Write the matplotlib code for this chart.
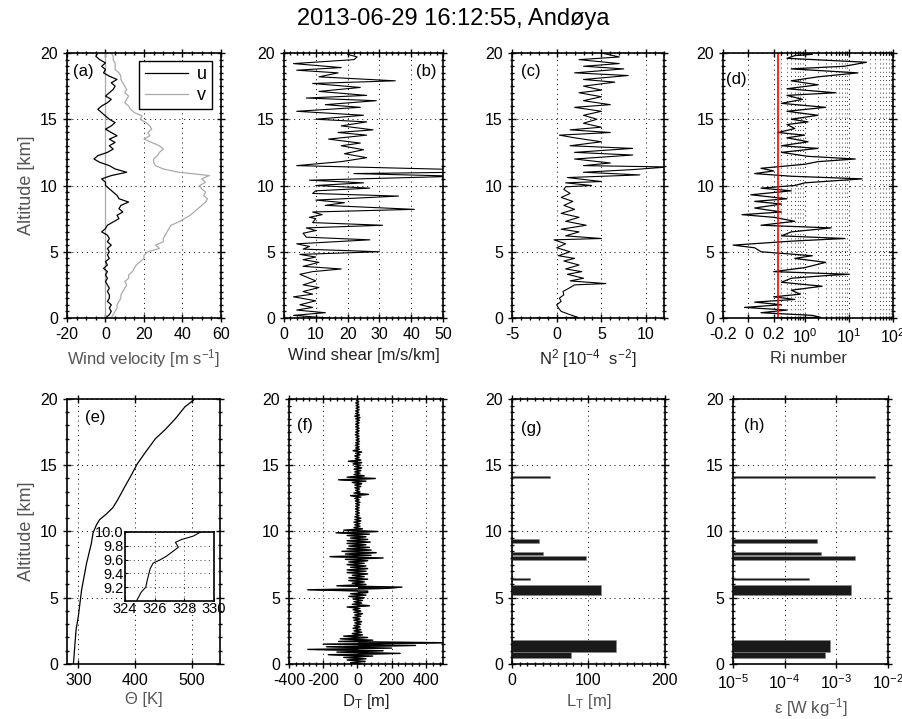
import numpy as np
import matplotlib.pyplot as plt
from matplotlib.ticker import MultipleLocator, FixedLocator, NullLocator, LogFormatterSciNotation

plt.rcParams['font.family'] = ['Liberation Sans', 'DejaVu Sans']
plt.rcParams['mathtext.fontset'] = 'custom'
plt.rcParams['mathtext.rm'] = 'Liberation Sans'
plt.rcParams['mathtext.default'] = 'regular'
plt.rcParams['axes.linewidth'] = 1.2
plt.rcParams['axes.unicode_minus'] = False

TITLE = '2013-06-29 16:12:55, Andøya'

# (a) wind components, sampled every 0.25 km
alt_uv = np.arange(0, 20.01, 0.25)
u_wind = [0, 2, 3, 2, 3, 1, 2, 2, 1,
          2, 1, 0, 1, 0, 1, -1, 1,
          0, 2, 1, 2, 1, 3, 1, 2,
          1, -2, 0, 1, 4, 7, 6, 9,
          7, 8, 12, 7, 6, 4, 2, 0,
          0, -2, 3, 11, 5, 2, -3, -6,
          -4, 1, 4, 2, 5, 2, 6, 3,
          0, 3, 5, 2, 0, -2, -4, -2,
          1, 3, 0, 2, 4, 5, 3, 6,
          2, -1, 0, -2, 0, -3, -5, -4]
v_wind = [3, 4, 5, 6, 6, 7, 8, 8, 9,
          10, 11, 10, 12, 12, 14, 15, 16,
          18, 20, 20, 22, 28, 26, 30, 30,
          31, 32, 33, 34, 38, 41, 44, 46,
          48, 50, 52, 53, 51, 52, 50, 49,
          52, 50, 54, 38, 30, 26, 25, 25,
          27, 28, 30, 28, 24, 20, 23, 22,
          24, 23, 21, 18, 19, 15, 13, 12,
          10, 11, 12, 10, 11, 10, 9, 8,
          8, 7, 5, 5, 5, 4, 4, 3]

# (b) wind shear
alt_shear = [0, 0.2, 0.4, 0.6, 0.8, 1.0, 1.3, 1.6, 1.8, 2.0, 2.3, 2.5, 2.8, 3.0,
             3.3, 3.5, 3.7, 3.9, 4.2, 4.4, 4.6, 4.8, 5.0, 5.2, 5.4, 5.6, 5.9, 6.1,
             6.4, 6.6, 6.8, 7.0, 7.2, 7.5, 7.6, 7.8, 8.0, 8.2, 8.5, 8.7, 8.9, 9.2,
             9.4, 9.6, 9.8, 10.0, 10.2, 10.4, 10.7, 10.9, 11.0, 11.2, 11.5, 11.8,
             12.1, 12.4, 12.7, 13.0, 13.2, 13.5, 13.8, 14.0, 14.2, 14.5, 14.8, 15.0,
             15.3, 15.6, 15.9, 16.1, 16.4, 16.6, 16.8, 17.1, 17.4, 17.7, 17.9, 18.2,
             18.5, 18.7, 18.9, 19.2, 19.5, 19.7, 19.9, 20.0]
shear = [14, 3, 13, 4, 9, 5, 10, 3, 9, 6, 11, 6, 10, 8,
         5, 9, 18, 6, 11, 6, 10, 5, 30, 6, 8, 4, 27, 7,
         6, 10, 7, 31, 9, 10, 8, 12, 9, 41, 13, 19, 10, 36,
         9, 10, 27, 10, 25, 8, 55, 22, 55, 55, 4, 18,
         26, 19, 25, 18, 24, 14, 26, 17, 28, 18, 26, 10,
         25, 4, 24, 13, 29, 7, 26, 11, 24, 9, 35, 11,
         17, 4, 18, 3, 22, 23, 20, 21]

# (c) N^2
alt_n2 = [0.0, 0.05, 0.25, 0.5, 0.75, 1.0, 1.25, 1.5, 1.75, 2.0, 2.3, 2.5, 2.6, 2.8,
          3.0, 3.3, 3.5, 3.7, 4.0, 4.3, 4.5, 4.7, 5.0, 5.3, 5.6, 5.9, 6.0, 6.2,
          6.5, 6.7, 7.0, 7.3, 7.6, 7.9, 8.2, 8.5, 8.8, 9.1, 9.4, 9.7, 9.9, 10.0,
          10.2, 10.3, 10.6, 10.8, 11.0, 11.2, 11.4, 11.5, 11.7, 12.0, 12.3, 12.5,
          12.8, 13.0, 13.3, 13.6, 13.8, 14.0, 14.2, 14.4, 14.7, 15.0, 15.3, 15.6,
          15.9, 16.1, 16.4, 16.7, 17.0, 17.2, 17.5, 17.8, 18.0, 18.3, 18.5, 18.8,
          19.0, 19.2, 19.5, 19.7, 20.0]
n2 = [-2.3, 2.4, 1.5, 0.5, 0.2, 0.0, 0.5, 0.3, 0.8, 0.7, 1.5, 2.0, 5.5, 1.5,
      3.0, 1.2, 2.8, 1.0, 2.5, 0.8, 2.0, 0.2, 1.5, 0.0, 1.0, -0.3, 5.0, 1.0,
      2.5, 0.5, 3.3, 1.0, 2.5, 0.5, 2.0, 0.8, 1.8, 0.5, 1.5, 0.8, 1.0, 3.9,
      1.0, 5.0, 1.2, 9.3, 3.0, 8.5, 12.5, 3.0, 6.0, 2.0, 8.5, 2.0,
      8.5, 1.5, 5.0, 2.0, 0.3, 6.0, 1.5, 5.0, 3.0, 4.5, 3.0, 5.0,
      2.0, 6.0, 3.0, 5.0, 2.5, 5.0, 3.0, 6.5, 3.0, 8.0, 2.0, 7.5,
      3.0, 7.0, 2.5, 7.0, 5.0]

# (d) Richardson number
alt_ri = [0.0, 0.05, 0.2, 0.4, 0.6, 0.8, 1.0, 1.2, 1.4, 1.6, 1.8, 2.1, 2.4, 2.7,
          3.0, 3.2, 3.3, 3.5, 3.8, 4.2, 4.5, 4.7, 5.0, 5.3, 5.5, 5.8, 6.0, 6.2,
          6.5, 6.8, 7.0, 7.3, 7.6, 7.8, 8.0, 8.3, 8.6, 8.8, 9.0, 9.3, 9.6, 9.8,
          10.0, 10.2, 10.5, 10.7, 10.9, 11.1, 11.3, 11.6, 11.8, 12.0, 12.2, 12.5,
          12.8, 13.0, 13.3, 13.6, 13.8, 14.0, 14.3, 14.6, 14.8, 15.0, 15.3, 15.6,
          15.9, 16.2, 16.5, 16.8, 17.0, 17.3, 17.6, 17.9, 18.2, 18.5, 18.8, 19.0,
          19.3, 19.6, 19.8, 19.9, 20.0]
ri = [0.18, 2.3, 1.5, 0.1, 0.4, -0.03, 0.3, 0.05, 0.6, 0.2, 0.8, 0.5, 2.5, 0.3,
      0.5, 3.0, 10.0, 0.2, 1.0, 3.0, 0.6, 1.5, 0.1, 0.05, -0.12, 0.5, 8.0, 0.3,
      0.5, 4.0, 0.1, 0.6, 0.2, -0.05, 0.3, 0.05, 0.3, 0.05, 0.4, 0.02, 0.5, 0.1,
      0.6, 1.0, 20.0, 0.5, 0.05, 0.2, 0.1, 1.0, 2.0, 14.0, 1.2, 0.3,
      2.0, 0.3, 1.2, 0.4, 1.0, 0.25, 0.6, 0.4, 1.2, 0.5, 2.0, 0.4,
      3.0, 0.3, 0.9, 0.4, 5.0, 0.4, 2.0, 0.5, 2.0, 16.0, 0.5, 8.0,
      25.0, 0.4, 0.6, 1.5, 0.8]
ri_crit = 0.25

# (e) potential temperature
alt_theta = [0, 2.58, 3.6, 5.6, 7.6, 9.1, 9.9, 10.5, 10.9, 11.3, 11.8, 12.4, 13.3,
             14.2, 15.1, 16.0, 17.0, 17.7, 18.5, 19.4, 20.0]
theta = [291.3, 296, 300, 305.8, 314.5, 323, 326, 332, 337.7, 349, 361, 369.6, 381,
         392.8, 404, 418.8, 436, 453.6, 471, 488, 505.8]
alt_inset = [9.01, 9.13, 9.2, 9.3, 9.47, 9.55, 9.6, 9.65, 9.73, 9.78, 9.85, 9.89, 9.94, 10.0]
theta_inset = [324.8, 325.1, 325.4, 325.5, 325.7, 325.9, 326.4, 326.8, 327.3, 327.6,
               327.4, 327.8, 328.6, 329.1]

# (f) Thorpe displacements, every 0.1 km
alt_dt = np.arange(0, 20.001, 0.1)
d_t = [30, -40, 45, -60, 50, -80, 90, -170, 250, -120,
       150, -290, 200, -180, 340, -200, 520, -110, 90, -100,
       60, -80, 30, -30, 25, -20, 20, -25, 15, -20,
       20, -15, 25, -20, 15, -25, 20, -15, 30, -20,
       20, -25, 15, -60, 70, -30, 25, -20, 30, -25,
       40, -50, 50, -40, 60, 60, -290, 150, 260, -120,
       50, -30, 40, -50, 60, -50, 40, -30, 60, -60,
       50, -60, 60, -40, 50, -60, 40, -50, 60, -70,
       150, -160, 80, -70, 110, -90, 80, -60, 70, -50,
       50, -60, 75, -60, 60, -40, 50, -60, 70, -125,
       120, -80, 30, -20, 15, -15, 15, -20, 20, -15,
       20, -15, 10, -10, 12, -10, 10, -12, 10, -10,
       12, -10, 15, -12, 10, -15, 20, -40, 65, -20,
       15, -10, 12, -15, 20, -15, 25, -30, 50, -110,
       105, -60, 40, -20, 15, -15, 20, -20, 25, -15,
       20, -25, 25, -53, 20, -12, 10, -15, 15, -10,
       25, -25, 12, -10, 10, -12, 10, -10, 12, -8,
       10, -8, 10, -12, 8, -10, 10, -8, 10, -10,
       8, -10, 10, -8, 12, -10, 15, -15, 12, -10,
       8, -10, 10, -8, 10, -8, 8, -10, 8, -6,
       5]

# (g, h) Thorpe layers
layer_bottom = [14.05, 9.15, 8.25, 7.85, 6.32, 5.21, 0.93, 0.43]
layer_top = [14.20, 9.42, 8.45, 8.15, 6.47, 5.97, 1.81, 0.93]
thorpe_len = [50, 35, 40, 97, 23, 116, 136, 77]
epsilon = [5.6e-3, 4.2e-4, 5.0e-4, 2.3e-3, 2.9e-4, 1.95e-3, 7.6e-4, 6.1e-4]

GRAY_TXT = '#555555'
DOT = (0, (1, 4))

fig = plt.figure(figsize=(9.03, 7.19), dpi=100)
fig.text(0.502, 0.973, TITLE, ha='center', va='center', fontsize=17)


def panel(rect, ymin_step=0.5):
    ax = fig.add_axes(rect)
    ax.set_ylim(0, 20)
    ax.yaxis.set_major_locator(MultipleLocator(5))
    ax.yaxis.set_minor_locator(MultipleLocator(ymin_step))
    ax.tick_params(which='both', direction='inout', top=True, right=True,
                   labelsize=11.5, width=1.0)
    ax.tick_params(which='major', length=6)
    ax.tick_params(which='minor', length=3.5)
    ax.grid(True, which='major', ls=DOT, color='k', lw=0.7)
    ax.set_axisbelow(True)
    return ax


def tag(ax, s, x, y):
    ax.text(x, y, s, transform=ax.transAxes, fontsize=12, va='center')


top_b, bot_b, h = 0.5577, 0.0765, 0.3686

# (a)
ax = panel([0.0742, top_b, 0.1705, h])
ax.axvline(0, color='#aaaaaa', lw=0.9)
ax.plot(u_wind, alt_uv, color='k', lw=0.9, label='u')
ax.plot(v_wind, alt_uv, color='#aaaaaa', lw=0.9, label='v')
ax.set_xlim(-20, 60)
ax.xaxis.set_major_locator(MultipleLocator(20))
ax.xaxis.set_minor_locator(MultipleLocator(5))
ax.set_xlabel('Wind velocity [m s$^{-1}$]', fontsize=12, color=GRAY_TXT, labelpad=4)
ax.set_ylabel('Altitude [km]', fontsize=13, color=GRAY_TXT, labelpad=4)
leg = ax.legend(loc='upper right', bbox_to_anchor=(0.945, 0.97), fontsize=13,
                handlelength=2.4, handletextpad=0.5, frameon=True, fancybox=False,
                framealpha=1, edgecolor='k', borderaxespad=0, borderpad=0.3,
                labelspacing=0.2)
leg.get_frame().set_linewidth(1.0)
tag(ax, '(a)', 0.04, 0.93)

# (b)
ax = panel([0.3145, top_b, 0.1761, h])
ax.plot(shear, alt_shear, color='k', lw=0.8)
ax.set_xlim(0, 50)
ax.xaxis.set_major_locator(MultipleLocator(10))
ax.xaxis.set_minor_locator(MultipleLocator(2))
ax.set_xlabel('Wind shear [m/s/km]', fontsize=12, color='#222222', labelpad=4)
tag(ax, '(b)', 0.83, 0.93)

# (c)
ax = panel([0.5670, top_b, 0.1683, h])
ax.plot(n2, alt_n2, color='k', lw=0.8)
ax.set_xlim(-5, 12)
ax.xaxis.set_major_locator(MultipleLocator(5))
ax.xaxis.set_minor_locator(MultipleLocator(1))
ax.set_xlabel('N$^2$ [10$^{-4}$  s$^{-2}$]', fontsize=12, color='#222222', labelpad=4)
tag(ax, '(c)', 0.06, 0.93)

# (d)
ax = panel([0.8007, top_b, 0.1883, h])
ax.set_xscale('symlog', linthresh=0.2, linscale=0.515)
ax.set_xlim(-0.2, 100)
ax.xaxis.set_major_locator(FixedLocator([-0.2, 0, 0.2, 1, 10, 100]))
ax.set_xticklabels(['-0.2', '0', '0.2', '$10^0$', '$10^1$', '$10^2$'])
ri_minor = [m * d for d in (0.1, 1, 10) for m in range(2, 10) if m * d > 0.25]
ax.xaxis.set_minor_locator(FixedLocator(ri_minor))
ax.grid(True, which='minor', axis='x', ls=DOT, color='k', lw=0.6)
ax.plot(ri, alt_ri, color='k', lw=0.9)
ax.axvline(ri_crit, color='red', lw=1.2)
ax.set_xlabel('Ri number', fontsize=12, color='#333333', labelpad=4)
tag(ax, '(d)', 0.02, 0.9)

# (e)
ax = panel([0.0742, bot_b, 0.1694, h], ymin_step=1)
ax.plot(theta, alt_theta, color='k', lw=0.9)
ax.set_xlim(280, 550)
ax.xaxis.set_major_locator(MultipleLocator(100))
ax.set_xlabel('Θ [K]', fontsize=12, color=GRAY_TXT, labelpad=3)
ax.set_ylabel('Altitude [km]', fontsize=13, color=GRAY_TXT, labelpad=4)
tag(ax, '(e)', 0.12, 0.93)

axi = fig.add_axes([0.1384, 0.1641, 0.0986, 0.096])
axi.plot(theta_inset, alt_inset, color='k', lw=0.8)
axi.set_xlim(324, 330)
axi.set_ylim(9.0, 10.0)
axi.set_xticks([324, 326, 328, 330])
axi.set_yticks([9.2, 9.4, 9.6, 9.8, 10.0])
axi.set_yticklabels(['9.2', '9.4', '9.6', '9.8', '10.0'])
axi.tick_params(direction='in', length=2, labelsize=10.5, pad=1)
axi.grid(True, ls=DOT, color='k', lw=0.6)

# (f)
ax = panel([0.3200, bot_b, 0.1705, h])
ax.fill_betweenx(alt_dt, 0, d_t, color='k', lw=0)
ax.plot(d_t, alt_dt, color='k', lw=1.0)
ax.set_xlim(-400, 500)
ax.xaxis.set_major_locator(FixedLocator([-400, -200, 0, 200, 400]))
ax.xaxis.set_minor_locator(MultipleLocator(40))
ax.set_xlabel('D$_T$ [m]', fontsize=12, color='#222222', labelpad=3)
tag(ax, '(f)', 0.05, 0.9)

thick = np.array(layer_top) - np.array(layer_bottom)
mid = (np.array(layer_top) + np.array(layer_bottom)) / 2

# (g)
ax = panel([0.5670, bot_b, 0.1694, h])
ax.barh(mid, thorpe_len, height=thick, color='#1a1a1a', edgecolor='#888888', lw=0.4)
ax.set_xlim(0, 200)
ax.xaxis.set_major_locator(MultipleLocator(100))
ax.xaxis.set_minor_locator(MultipleLocator(10))
ax.set_xlabel('L$_T$ [m]', fontsize=12, color=GRAY_TXT, labelpad=3)
tag(ax, '(g)', 0.06, 0.89)

# (h)
ax = panel([0.8117, bot_b, 0.1716, h])
ax.set_xscale('log')
ax.barh(mid, np.array(epsilon) - 1e-5, left=1e-5, height=thick, color='#1a1a1a',
        edgecolor='#888888', lw=0.4)
ax.set_xlim(1e-5, 1e-2)
ax.xaxis.set_major_locator(FixedLocator([1e-5, 1e-4, 1e-3, 1e-2]))
ax.xaxis.set_major_formatter(LogFormatterSciNotation())
ax.xaxis.set_minor_locator(NullLocator())
ax.set_xlabel('ε [W kg$^{-1}$]', fontsize=12, color=GRAY_TXT, labelpad=3)
tag(ax, '(h)', 0.07, 0.9)

fig.savefig('out.png', dpi=100)
